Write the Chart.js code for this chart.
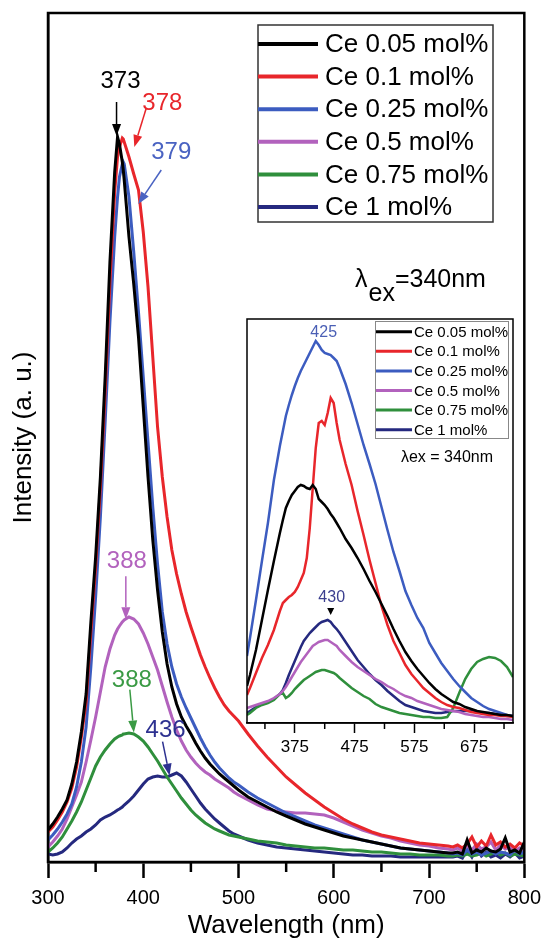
<!DOCTYPE html>
<html><head><meta charset="utf-8">
<script src="https://cdn.jsdelivr.net/npm/chart.js@4.4.1/dist/chart.umd.min.js"></script>
<style>
html,body{margin:0;padding:0;background:#fff;}
#wrap{position:relative;width:549px;height:941px;overflow:hidden;}
#main{position:absolute;left:0;top:0;width:549px;height:941px;}
#inset{position:absolute;left:240px;top:312px;width:280px;height:450px;}
</style></head><body>
<div id="wrap"><canvas id="main" width="549" height="941"></canvas><canvas id="inset" width="280" height="450"></canvas></div>
<script>
const FONT = "'Liberation Sans', Arial, Helvetica, sans-serif";

// ---------- data ----------
const seriesLabels = ['Ce 0.05 mol%','Ce 0.1 mol%','Ce 0.25 mol%','Ce 0.5 mol%','Ce 0.75 mol%','Ce 1 mol%'];
const seriesColors = ['#000000','#e8262b','#3c5cc0','#b262bd','#2f8f3c','#25297f'];

// main spectra (wavelength in nm, intensity in a.u.)
const mainWavelengths = [300,305,310,315,320,325,330,335,340,345,350,355,360,365,370,373,375,378,379,380,385,390,395,400,405,410,415,420,425,430,435,440,445,450,455,460,465,470,475,480,485,490,495,500,510,520,530,540,550,560,570,580,590,600,610,620,630,640,650,660,670,680,690,700,710,720,725,730,735,740,745,750,755,760,765,770,775,780,785,790,795,800];
const mainCe005 = [32,38,45,53,62,78,100,130,168,240,305,385,485,600,690,725,718,700,692,682,625,578,525,455,385,322,272,230,198,175,158,145,136,128,119,111,104,98,93,88,84,80,76,72,65,60,55,50,46,42,38,35,32,29,26,24,22,20,18,16,14,13,12,11,10,9,9,10,8,22,9,12,10,14,11,10,13,24,10,12,9,20];
const mainCe01  = [30,35,42,50,60,74,95,125,160,230,295,375,470,580,670,705,715,724,723,720,705,688,672,630,575,505,435,385,345,312,288,268,250,235,221,207,195,184,174,165,157,151,146,141,128,116,105,95,85,77,69,62,55,49,43,38,34,30,27,25,23,21,19,18,17,16,15,17,14,18,25,15,21,16,27,17,20,15,18,14,19,16];
const mainCe025 = [22,27,33,40,48,58,75,100,135,195,265,345,440,540,625,665,685,698,700,698,665,610,550,485,420,355,298,250,218,195,178,165,154,144,134,124,115,107,100,94,89,84,80,77,70,64,59,54,49,45,41,37,34,31,28,25,22,20,18,16,14,13,12,11,10,9,8,9,7,12,8,10,7,9,11,8,10,9,7,12,8,10];
const mainCe05  = [15,20,26,33,43,55,67,80,100,122,145,170,195,213,227,233,236,240,241,242,245,243,238,229,218,205,192,176,160,145,132,121,112,105,99,94,90,87,83,80,77,74,70,67,62,57,53,51,50,49,49,48,47,44,40,36,32,29,26,24,21,19,17,16,14,13,12,14,11,16,12,18,13,15,20,12,17,13,15,11,14,12];
const mainCe075 = [10,14,19,25,33,41,50,60,72,84,96,105,112,118,123,125,126,127,128,128,129,128,125,121,115,108,101,93,85,78,71,64,58,52,47,43,39,36,33,31,29,27,26,25,23,21,20,19,17,16,15,14,14,13,12,12,11,10,10,9,8,8,7,7,7,6,6,7,6,8,6,7,9,6,8,10,7,9,6,8,7,6];
const mainCe1   = [8,7,8,10,14,19,23,26,30,33,37,42,45,47,50,52,53,55,56,57,61,66,72,78,83,85,86,85,85,87,89,86,80,73,66,59,53,48,43,39,35,31,28,26,22,19,17,15,14,13,12,11,10,9,8,7,7,6,6,6,5,5,5,5,5,5,5,6,4,12,5,14,6,10,5,7,4,8,5,9,4,6];
const mainPeakLabels = [373,378,379,388,388,436];
const mainXTicks = [300,350,400,450,500,550,600,650,700,750,800];

// inset spectra
const insetWavelengths = [295,300,310,320,330,340,350,355,360,365,370,375,380,385,390,395,400,405,410,415,420,425,430,435,440,445,450,460,470,480,490,500,510,520,530,540,550,560,570,580,590,600,610,620,630,640,650,660,670,680,690,700,710,720,730,740];
const insetCe005 = [37,48,73,103,133,162,190,203,215,222,228,232,236,238,237,235,234,238,234,224,221,218,214,209,205,200,195,184,175,165,154,142,131,119,107,94,82,71,62,54,47,40,34,29,25,21,19,16,14,12,11,10,9,8,8,7];
const insetCe01  = [28,35,50,65,78,93,112,120,123,126,128,131,136,143,150,165,195,235,275,300,302,298,310,325,320,300,283,259,238,212,188,163,140,117,98,82,70,58,49,42,35,30,25,21,18,16,15,13,11,10,9,8,8,7,7,6];
const insetCe025 = [67,85,123,162,200,243,277,292,307,318,328,337,345,352,358,364,370,376,382,378,373,370,369,368,365,362,355,339,320,299,278,259,239,216,193,171,152,132,118,105,95,80,70,60,52,44,37,31,25,21,17,14,12,10,8,7];
const insetCe05  = [15,16,18,20,22,25,29,32,36,41,46,51,56,61,65,69,73,77,79,81,82,83,83,81,79,77,73,67,61,56,52,48,44,41,37,34,30,27,25,22,20,18,16,14,13,12,11,9,8,7,6,6,5,4,4,3];
const insetCe075 = [8,10,15,18,20,23,29,30,25,27,30,34,37,40,43,45,47,49,51,52,53,53,52,51,50,48,45,40,35,31,27,24,19,16,14,12,10,9,8,7,6,6,5,5,6,15,30,44,54,61,64,66,65,62,56,46];
const insetCe1   = [10,12,16,19,21,24,29,33,40,48,55,62,69,76,82,86,90,93,96,99,101,102,103,101,97,94,90,81,72,63,56,49,43,38,32,27,22,18,16,14,12,11,10,10,11,12,12,12,12,11,10,10,9,8,7,7];
const insetXTicks = [325,375,425,475,525,575,625,675,725];
const insetPeakLabels = [{series:2, nm:425}, {series:5, nm:430}];

const mainSeries = [mainCe005, mainCe01, mainCe025, mainCe05, mainCe075, mainCe1];
const insetSeries = [insetCe005, insetCe01, insetCe025, insetCe05, insetCe075, insetCe1];

// ---------- helpers ----------
function valueAt(xs, ys, v){
  for(let i=0;i<xs.length-1;i++){
    if(v>=xs[i] && v<=xs[i+1]){ const t=(v-xs[i])/(xs[i+1]-xs[i]); return ys[i]+t*(ys[i+1]-ys[i]); }
  }
  return ys[ys.length-1];
}
function arrow(ctx,x0,y0,x1,y1,color,head,hw,lw){
  const a=Math.atan2(y1-y0,x1-x0);
  const bx=x1-head*Math.cos(a), by=y1-head*Math.sin(a);
  ctx.strokeStyle=color; ctx.fillStyle=color; ctx.lineWidth=lw;
  ctx.beginPath(); ctx.moveTo(x0,y0); ctx.lineTo(bx,by); ctx.stroke();
  ctx.beginPath(); ctx.moveTo(x1,y1);
  ctx.lineTo(bx+hw*Math.sin(a), by-hw*Math.cos(a));
  ctx.lineTo(bx-hw*Math.sin(a), by+hw*Math.cos(a));
  ctx.closePath(); ctx.fill();
}
function makeDatasets(xs, list, width){
  return list.map((ys,i)=>({
    label: seriesLabels[i],
    data: xs.map((w,j)=>({x:w, y:ys[j]})),
    borderColor: seriesColors[i], backgroundColor: seriesColors[i],
    borderWidth: width, pointRadius:0, tension:0, fill:false
  }));
}

// styles for annotations (offsets in px relative to the labelled data point)
const mainAnnoStyle = [
  {color:'#000000', label:[3,-56],  tail:[-1,-35], tip:[-1,-1]},
  {color:'#e8262b', label:[40,-35], tail:[24,-30], tip:[12,9]},
  {color:'#4a63c2', label:[48,-10], tail:[38,8],   tip:[15,42]},
  {color:'#b262bd', label:[-5,-57], tail:[-6,-42], tip:[-6,1]},
  {color:'#3a9a44', label:[0,-53],  tail:[-2,-44], tip:[2,-1]},
  {color:'#2d3190', label:[-12,-43],tail:[-15,-32],tip:[-8,2]}
];

// ---------- main chart ----------
const mainDecor = {
  id:'mainDecor',
  afterDraw(chart){
    const {ctx, chartArea:a} = chart; const x=chart.scales.x, y=chart.scales.y;
    ctx.save();
    ctx.strokeStyle='#000'; ctx.lineWidth=2.5;
    ctx.strokeRect(a.left, a.top, a.right-a.left, a.bottom-a.top);
    mainXTicks.forEach(v=>{ if(v%100!==0){ const px=x.getPixelForValue(v);
      ctx.beginPath(); ctx.moveTo(px,a.bottom); ctx.lineTo(px,a.bottom+10); ctx.stroke(); }});
    // legend
    const L={left:258, top:25, w:235, h:197, row0:44, gap:32.6, l0:258, l1:318, tx:325};
    ctx.lineWidth=1.5; ctx.strokeStyle='#333';
    ctx.strokeRect(L.left,L.top,L.w,L.h);
    ctx.font='26px '+FONT; ctx.textBaseline='middle'; ctx.textAlign='left';
    seriesLabels.forEach((lab,i)=>{
      const yy=L.row0+i*L.gap;
      ctx.strokeStyle=seriesColors[i]; ctx.lineWidth=4;
      ctx.beginPath(); ctx.moveTo(L.l0,yy); ctx.lineTo(L.l1,yy); ctx.stroke();
      ctx.fillStyle='#000'; ctx.fillText(lab, L.tx, yy+1);
    });
    // lambda ex
    ctx.textBaseline='alphabetic'; ctx.fillStyle='#000'; ctx.font='25px '+FONT;
    let lx=355; ctx.fillText('\u03bb', lx, 287); lx+=ctx.measureText('\u03bb').width+1;
    ctx.fillText('ex', lx, 301); lx+=ctx.measureText('ex').width;
    ctx.fillText('=340nm', lx, 287);
    // peak annotations
    ctx.font='24px '+FONT; ctx.textAlign='center'; ctx.textBaseline='middle';
    mainPeakLabels.forEach((nm,i)=>{
      const s=mainAnnoStyle[i];
      const px=x.getPixelForValue(nm), py=y.getPixelForValue(valueAt(mainWavelengths, mainSeries[i], nm));
      ctx.fillStyle=s.color; ctx.fillText(String(nm), px+s.label[0], py+s.label[1]);
      arrow(ctx, px+s.tail[0], py+s.tail[1], px+s.tip[0], py+s.tip[1], s.color, 12, 4.5, 1.5);
    });
    ctx.restore();
  }
};

new Chart(document.getElementById('main'), {
  type:'line',
  data:{datasets: makeDatasets(mainWavelengths, mainSeries, 3)},
  options:{
    responsive:false, animation:false, devicePixelRatio:1,
    layout:{padding:{top:13,right:23,left:0,bottom:0}},
    plugins:{legend:{display:false}, tooltip:{enabled:false}},
    scales:{
      x:{type:'linear', min:300, max:800,
        afterBuildTicks:s=>{ s.ticks = mainXTicks.map(v=>({value:v})); },
        afterFit:s=>{ s.height = 79; },
        ticks:{autoSkip:false, maxRotation:0, padding:8, color:'#000', font:{family:FONT, size:20},
          callback:v=> (v%100===0 ? String(v) : '')},
        grid:{display:true, drawOnChartArea:false, drawTicks:true, tickLength:16, tickWidth:2.5,
          tickColor:c=> (c.tick && c.tick.value%100===0) ? '#000' : 'rgba(0,0,0,0)'},
        border:{display:true, width:2.5, color:'#000'},
        title:{display:true, text:'Wavelength (nm)', color:'#000', font:{family:FONT, size:26}, padding:{top:0,bottom:0}}
      },
      y:{min:0, max:849,
        afterFit:s=>{ s.width = 48; },
        ticks:{display:false}, grid:{display:false, drawTicks:false},
        border:{display:true, width:2.5, color:'#000'},
        title:{display:true, text:'Intensity (a. u.)', color:'#000', font:{family:FONT, size:26}, padding:{top:8,bottom:0}}
      }
    }
  },
  plugins:[mainDecor]
});

// ---------- inset chart ----------
const insetAnnoStyle = [
  {color:'#4a5fb5', label:[-1,-20]},
  {color:'#3b3f8f', label:[4,-22], tri:{tip:[3,-5], base:-12, hw:3.5}}
];
const insetDecor = {
  id:'insetDecor',
  beforeDraw(chart){
    const {ctx, chartArea:a} = chart;
    ctx.save(); ctx.fillStyle='#fff'; ctx.fillRect(a.left,a.top,a.right-a.left,a.bottom-a.top); ctx.restore();
  },
  afterDraw(chart){
    const {ctx, chartArea:a} = chart; const x=chart.scales.x, y=chart.scales.y;
    ctx.save();
    ctx.strokeStyle='#000'; ctx.lineWidth=1.5;
    ctx.strokeRect(a.left, a.top, a.right-a.left, a.bottom-a.top);
    insetXTicks.forEach(v=>{ if((v-375)%100!==0){ const px=x.getPixelForValue(v);
      ctx.beginPath(); ctx.moveTo(px,a.bottom); ctx.lineTo(px,a.bottom+6); ctx.stroke(); }});
    // legend
    const L={left:135, top:9, w:133, h:117, row0:19.7, gap:19.6, l0:135, l1:172, tx:174};
    ctx.save();
    ctx.beginPath(); ctx.rect(L.left,L.top,L.w,L.h); ctx.clip();
    ctx.font='15px '+FONT; ctx.textBaseline='middle'; ctx.textAlign='left';
    seriesLabels.forEach((lab,i)=>{
      const yy=L.row0+i*L.gap;
      ctx.strokeStyle=seriesColors[i]; ctx.lineWidth=3;
      ctx.beginPath(); ctx.moveTo(L.l0,yy); ctx.lineTo(L.l1,yy); ctx.stroke();
      ctx.fillStyle='#000'; ctx.fillText(lab, L.tx, yy+1);
    });
    ctx.restore();
    ctx.strokeStyle='#888'; ctx.lineWidth=1; ctx.strokeRect(L.left+0.5,L.top+0.5,L.w,L.h);
    // lambda ex
    ctx.font='16px '+FONT; ctx.fillStyle='#000'; ctx.textAlign='center'; ctx.textBaseline='middle';
    ctx.fillText('\u03bbex = 340nm', 207, 146);
    // peak labels
    ctx.font='16px '+FONT;
    insetPeakLabels.forEach((p,k)=>{
      const s=insetAnnoStyle[k];
      const px=x.getPixelForValue(p.nm), py=y.getPixelForValue(valueAt(insetWavelengths, insetSeries[p.series], p.nm));
      ctx.fillStyle=s.color; ctx.fillText(String(p.nm), px+s.label[0], py+s.label[1]);
      if(s.tri){
        ctx.fillStyle='#000';
        const tx=px+s.tri.tip[0], ty=py+s.tri.tip[1], by=py+s.tri.base;
        ctx.beginPath(); ctx.moveTo(tx,ty); ctx.lineTo(tx-s.tri.hw,by); ctx.lineTo(tx+s.tri.hw,by); ctx.closePath(); ctx.fill();
      }
    });
    ctx.restore();
  }
};

new Chart(document.getElementById('inset'), {
  type:'line',
  data:{datasets: makeDatasets(insetWavelengths, insetSeries, 2.5)},
  options:{
    responsive:false, animation:false, devicePixelRatio:1,
    layout:{padding:{top:7,right:7,left:7,bottom:0}},
    plugins:{legend:{display:false}, tooltip:{enabled:false}},
    scales:{
      x:{type:'linear', min:295, max:740,
        afterBuildTicks:s=>{ s.ticks = insetXTicks.map(v=>({value:v})); },
        afterFit:s=>{ s.height = 39; },
        ticks:{autoSkip:false, maxRotation:0, padding:4, color:'#000', font:{family:FONT, size:17},
          callback:v=> ((v-375)%100===0 ? String(v) : '')},
        grid:{display:true, drawOnChartArea:false, drawTicks:true, tickLength:10, tickWidth:1.5,
          tickColor:c=> (c.tick && (c.tick.value-375)%100===0) ? '#000' : 'rgba(0,0,0,0)'},
        border:{display:true, width:1.5, color:'#000'}
      },
      y:{display:false, min:0, max:404}
    }
  },
  plugins:[insetDecor]
});
</script>
</body></html>
